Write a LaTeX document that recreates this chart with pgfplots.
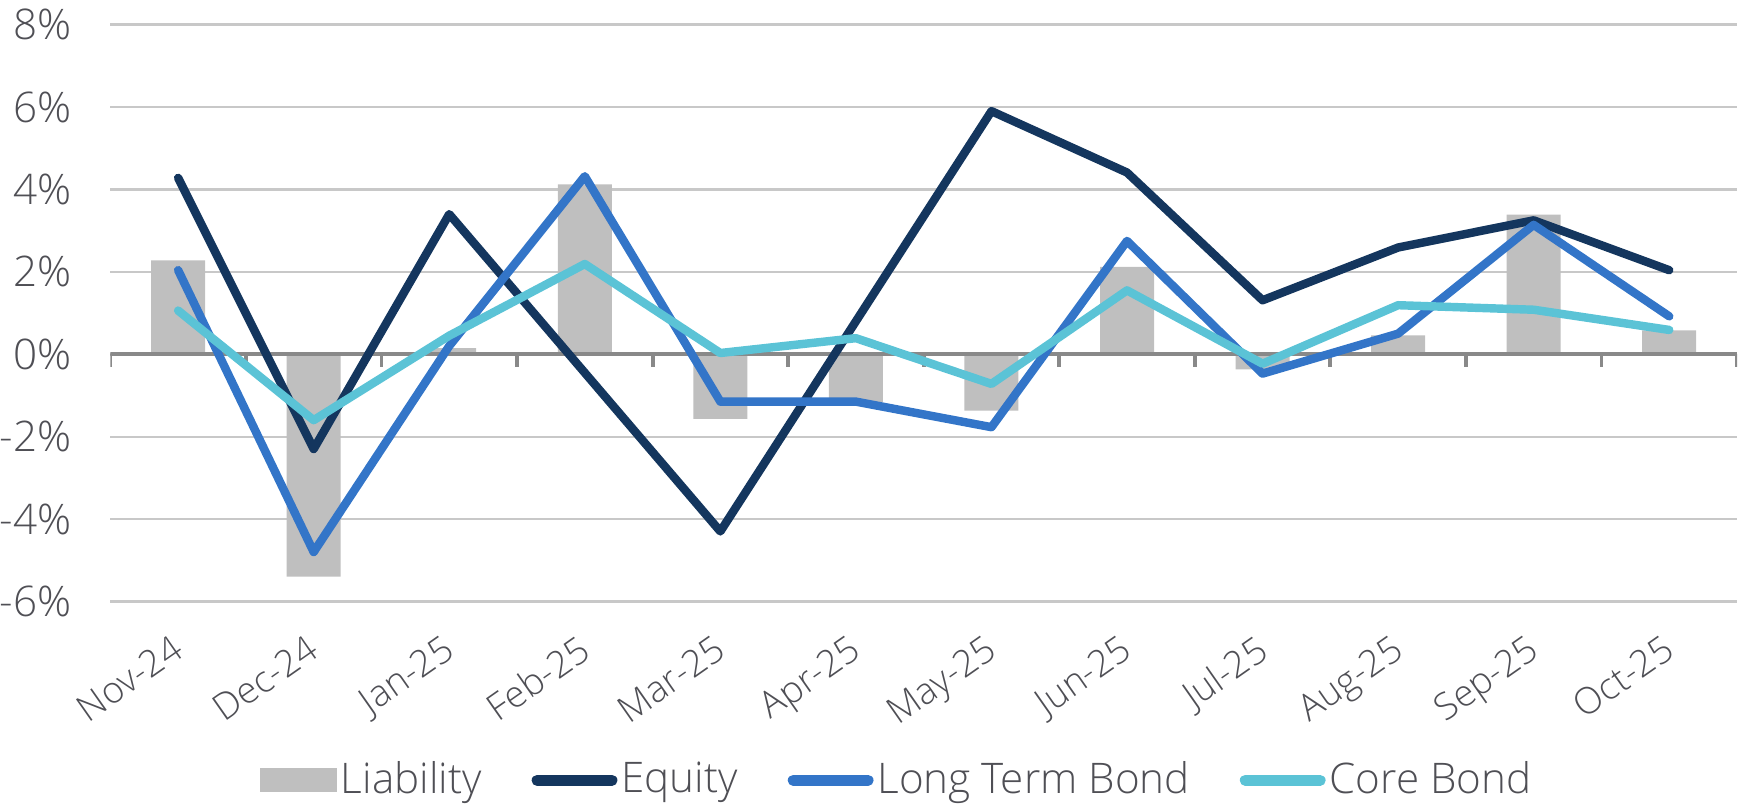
\documentclass[border=0pt]{standalone}
\usepackage{fontspec}
\setmainfont{Open Sans Light}
\usepackage{pgfplots}
\pgfplotsset{compat=1.18}

\definecolor{liab}{HTML}{BFBFBF}
\definecolor{equity}{HTML}{14365E}
\definecolor{ltb}{HTML}{3375C8}
\definecolor{core}{HTML}{5BC3D6}
\definecolor{txt}{HTML}{4F4F55}
\definecolor{gridc}{HTML}{C8C8C8}
\definecolor{axisc}{HTML}{898989}

\begin{document}
\begin{tikzpicture}
\begin{axis}[
    scale only axis,
    width=162.7mm, height=57.7mm,
    xmin=-0.5, xmax=11.5,
    ymin=-6, ymax=8,
    xtick={0,...,11},
    xticklabels={Nov-24,Dec-24,Jan-25,Feb-25,Mar-25,Apr-25,May-25,Jun-25,Jul-25,Aug-25,Sep-25,Oct-25},
    ytick={-6,-4,-2,0,2,4,6,8},
    yticklabels={-6\%,-4\%,-2\%,0\%,2\%,4\%,6\%,8\%},
    axis line style={draw=none},
    major tick length=0pt,
    ymajorgrids=true,
    grid style={gridc, line width=0.65pt},
    tick label style={text=txt},
    xticklabel style={font=\fontsize{10.5}{12}\selectfont, xshift=-0.8mm, rotate=35, anchor=north east, inner sep=0pt},
    xticklabel shift=3.1mm,
    yticklabel style={font=\fontsize{12}{14}\selectfont, anchor=east, inner sep=0pt},
    yticklabel shift=3.8mm,
    legend columns=4,
    legend style={draw=none, fill=none, at={(0.484,-0.31)}, anchor=center,
        font=\fontsize{12}{14}\selectfont, text=txt,
        nodes={inner sep=0.4mm},
        /tikz/every even column/.append style={column sep=4.6mm}},
]

% Liability
\addplot[ybar, bar width=5.4mm, fill=liab, draw=none,
    legend image code/.code={\fill[liab] (0mm,-1.2mm) rectangle (7.7mm,1.2mm);}]
    coordinates {
    (0,2.28)(1,-5.4)(2,0.15)(3,4.12)(4,-1.57)(5,-1.17)
    (6,-1.37)(7,2.12)(8,-0.37)(9,0.46)(10,3.39)(11,0.58)
    };
\addlegendentry{Liability}

% zero line with category ticks
\draw[axisc, line width=1.1pt] (axis cs:-0.5,0) -- (axis cs:11.5,0);
\pgfplotsinvokeforeach{-0.5,0.5,1.5,2.5,3.5,4.5,5.5,6.5,7.5,8.5,9.5,10.5,11.5}{
    \draw[axisc, line width=1.1pt] (axis cs:#1,0) -- (axis cs:#1,-0.32);
}

\pgfplotsset{every axis plot/.append style={line width=2.4pt, line cap=round, line join=round},
    legend image code/.code={\draw[#1, line width=3.1pt, line cap=round] (0.55mm,0mm) -- (8.05mm,0mm);}}

% Equity
\addplot[equity, mark=none] coordinates {
    (0,4.28)(1,-2.3)(2,3.40)(3,-0.45)(4,-4.30)(5,0.80)
    (6,5.90)(7,4.41)(8,1.31)(9,2.59)(10,3.25)(11,2.04)
    };
\addlegendentry{Equity}

% Long Term Bond
\addplot[ltb, mark=none] coordinates {
    (0,2.04)(1,-4.8)(2,0.20)(3,4.32)(4,-1.15)(5,-1.15)
    (6,-1.77)(7,2.75)(8,-0.47)(9,0.50)(10,3.14)(11,0.92)
    };
\addlegendentry{Long Term Bond}

% Core Bond
\addplot[core, mark=none] coordinates {
    (0,1.06)(1,-1.6)(2,0.45)(3,2.19)(4,0.03)(5,0.39)
    (6,-0.72)(7,1.55)(8,-0.23)(9,1.19)(10,1.08)(11,0.59)
    };
\addlegendentry{Core Bond}

\end{axis}
\path ([xshift=-11mm,yshift=-20.2mm]current axis.south west) rectangle ([xshift=0.9mm,yshift=2.46mm]current axis.north east);
\end{tikzpicture}
\end{document}
